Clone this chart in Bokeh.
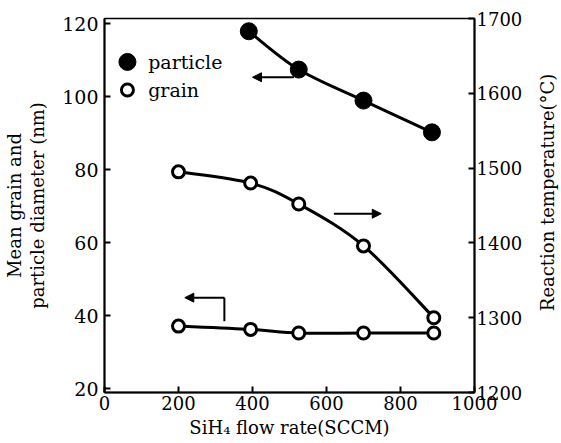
import numpy as np
from bokeh.plotting import figure
from bokeh.layouts import row
from bokeh.models import Range1d, LinearAxis, FixedTicker, Arrow, NormalHead, ColumnDataSource
from bokeh.core.properties import value
from bokeh.embed import file_html
from bokeh.resources import INLINE

# ---- data ----
flow_rate = [200, 395, 525, 700, 890]          # SCCM (grain + temperature)
grain_size = [37.2, 36.3, 35.3, 35.3, 35.3]    # nm
reaction_temp = [1495, 1480, 1452, 1396, 1300] # deg C
particle_flow = [390, 525, 700, 885]           # SCCM
particle_size = [118.0, 107.5, 99.0, 90.3]     # nm

x_ticks = [0, 200, 400, 600, 800, 1000]
left_ticks = [20, 40, 60, 80, 100, 120]
right_ticks = [1200, 1300, 1400, 1500, 1600, 1700]

legend_labels = ["particle", "grain"]
right_title = ["Reaction temperature(°C)"]

FONT = "DejaVu Serif"


def smooth_bezier(xs, ys):
    """Catmull-Rom spline through the data points, as cubic Bezier pieces."""
    pts = np.column_stack([np.asarray(xs, float), np.asarray(ys, float)])
    n = len(pts)
    out = {k: [] for k in ("x0", "y0", "x1", "y1", "cx0", "cy0", "cx1", "cy1")}
    for i in range(n - 1):
        p0 = pts[i - 1] if i > 0 else pts[i]
        p1 = pts[i]
        p2 = pts[i + 1]
        p3 = pts[i + 2] if i + 2 < n else pts[i + 1]
        c1 = p1 + (p2 - p0) / 6.0
        c2 = p2 - (p3 - p1) / 6.0
        out["x0"].append(p1[0]); out["y0"].append(p1[1])
        out["x1"].append(p2[0]); out["y1"].append(p2[1])
        out["cx0"].append(c1[0]); out["cy0"].append(c1[1])
        out["cx1"].append(c2[0]); out["cy1"].append(c2[1])
    return ColumnDataSource(out)


p = figure(width=525, height=443,
           x_range=Range1d(0, 1000), y_range=Range1d(19, 121.5),
           output_backend="svg", toolbar_location=None,
           min_border_left=104, min_border_right=48,
           min_border_top=18, min_border_bottom=51,
           background_fill_color="white", border_fill_color="white")
p.extra_y_ranges = {"temp": Range1d(1200, 1700)}

p.xgrid.visible = False
p.ygrid.visible = False
p.outline_line_color = "black"
p.outline_line_width = 1.5

right_axis = LinearAxis(y_range_name="temp")
p.add_layout(right_axis, "right")

p.xaxis.ticker = FixedTicker(ticks=x_ticks)
p.yaxis[0].ticker = FixedTicker(ticks=left_ticks)
right_axis.ticker = FixedTicker(ticks=right_ticks)

p.xaxis.axis_label = "SiH₄ flow rate(SCCM)"
p.yaxis[0].axis_label = "Mean grain and\nparticle diameter (nm)"

for ax in [p.xaxis[0], p.yaxis[0], right_axis]:
    ax.axis_line_color = "black"
    ax.axis_line_width = 2
    ax.major_tick_line_color = "black"
    ax.major_tick_line_width = 2
    ax.major_tick_in = 6
    ax.major_tick_out = 0
    ax.minor_tick_line_color = None
    ax.major_label_text_font = FONT
    ax.major_label_text_font_size = "18px"
    ax.major_label_text_color = "black"
    ax.major_label_text_line_height = 1.0
    ax.axis_label_text_font = FONT
    ax.axis_label_text_font_style = "normal"
    ax.axis_label_text_color = "black"
    ax.axis_label_text_font_size = "18px"
    ax.axis_label_text_line_height = 1.1

p.xaxis[0].major_label_standoff = 3
p.xaxis[0].axis_label_standoff = 4
p.xaxis[0].axis_label_text_line_height = 1.0
p.yaxis[0].major_label_standoff = 6
p.yaxis[0].axis_label_standoff = 11
p.yaxis[0].major_label_text_font_size = "19px"
right_axis.major_label_standoff = 2

# ---- curves ----
LW = 3
p.bezier(x0="x0", y0="y0", x1="x1", y1="y1", cx0="cx0", cy0="cy0", cx1="cx1", cy1="cy1",
         source=smooth_bezier(particle_flow, particle_size), line_color="black", line_width=LW)
p.bezier(x0="x0", y0="y0", x1="x1", y1="y1", cx0="cx0", cy0="cy0", cx1="cx1", cy1="cy1",
         source=smooth_bezier(flow_rate, grain_size), line_color="black", line_width=LW)
p.bezier(x0="x0", y0="y0", x1="x1", y1="y1", cx0="cx0", cy0="cy0", cx1="cx1", cy1="cy1",
         source=smooth_bezier(flow_rate, reaction_temp), line_color="black", line_width=LW,
         y_range_name="temp")

# ---- markers ----
p.scatter(particle_flow, particle_size, size=17, marker="circle",
          fill_color="black", line_color="black")
p.scatter(flow_rate, grain_size, size=12, marker="circle",
          fill_color="white", line_color="black", line_width=3)
p.scatter(flow_rate, reaction_temp, size=12, marker="circle",
          fill_color="white", line_color="black", line_width=3, y_range_name="temp")

# ---- legend (hand-drawn as in the original) ----
leg_x = [62, 62]
leg_y = [109.6, 101.9]
p.scatter([leg_x[0]], [leg_y[0]], size=17, marker="circle", fill_color="black", line_color="black")
p.scatter([leg_x[1]], [leg_y[1]], size=12, marker="circle", fill_color="white",
          line_color="black", line_width=3)
p.text(x=[118, 118], y=leg_y, text=legend_labels, text_font=value(FONT),
       text_font_size="19px", text_baseline="middle", text_align="left", text_color="black")

# ---- arrows pointing to the relevant axis ----
head = dict(size=9, fill_color="black", line_color="black", line_width=1)
p.add_layout(Arrow(end=NormalHead(**head), x_start=512, y_start=105.4, x_end=400, y_end=105.4,
                   line_color="black", line_width=2))
p.add_layout(Arrow(end=NormalHead(**head), x_start=620, y_start=68, x_end=748, y_end=68,
                   line_color="black", line_width=2))
p.add_layout(Arrow(end=NormalHead(**head), x_start=324, y_start=45, x_end=217, y_end=45,
                   line_color="black", line_width=2))
p.segment(x0=[324], y0=[45], x1=[324], y1=[38.5], line_color="black", line_width=2)

# ---- right-hand axis title (reads bottom-to-top, as in the original) ----
t = figure(width=36, height=443, x_range=Range1d(0, 1), y_range=Range1d(0, 1),
           output_backend="svg", toolbar_location=None, min_border=0,
           background_fill_color="white", border_fill_color="white")
t.axis.visible = False
t.grid.visible = False
t.outline_line_color = None
t.text(x=[0.62], y=[0.535], text=right_title, angle=np.pi / 2, text_font=value(FONT),
       text_font_size="18px", text_align="center", text_baseline="middle", text_color="black")

layout = row(p, t, spacing=0)
open("out.html", "w").write(file_html(layout, INLINE))
